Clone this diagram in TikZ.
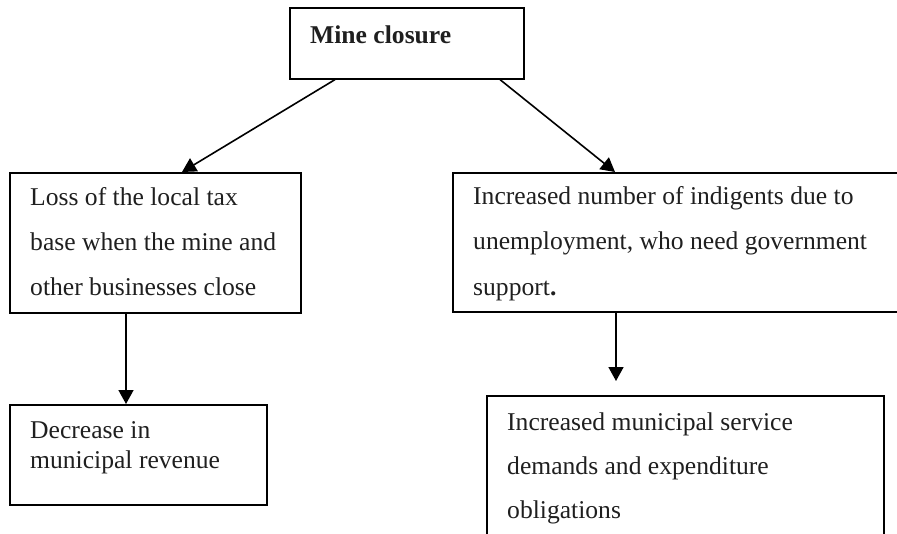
\documentclass[tikz,border=0pt]{standalone}
\usepackage{fontspec}
\setmainfont{Liberation Serif}
\usetikzlibrary{arrows.meta,calc}
\newcommand\boxlines[2]{\vtop{\baselineskip=#1\relax #2}}
\begin{document}
\begin{tikzpicture}[x=1pt,y=-1pt,
  box/.style={draw=black,line width=1.6pt,inner sep=0pt,anchor=north west},
  txt/.style={anchor=base west,inner sep=0pt,text=black!88,font=\fontsize{25.6}{30}\selectfont},
  arr/.style={line width=1.6pt,-{Triangle[length=14pt,width=15pt]}}]
\useasboundingbox (0,0) rectangle (897,533);
\clip (0,0) rectangle (897,533);
% boxes
\node[box,minimum width=234pt,minimum height=71pt] (mc) at (289,7) {};
\node[box,minimum width=291pt,minimum height=140pt] (l1) at (9,172) {};
\node[box,minimum width=257pt,minimum height=100pt] (l2) at (9,404) {};
\node[box,minimum width=460pt,minimum height=139pt] (r1) at (452,172) {};
\node[box,minimum width=397pt,minimum height=160pt] (r2) at (486,395) {};
% texts
\node[txt] (tmc) at (310,43) {\textbf{Mine closure}};
\node[txt] (tl1) at (30,205) {\boxlines{45pt}{\hbox{Loss of the local tax}\hbox{base when the mine and}\hbox{other businesses close}}};
\node[txt] (tl2) at (30,438) {\boxlines{30pt}{\hbox{Decrease in}\hbox{municipal revenue}}};
\node[txt] (tr1) at (473,204) {\boxlines{45.5pt}{\hbox{Increased number of indigents due to}\hbox{unemployment, who need government}\hbox{support\textbf{.}}}};
\node[txt] (tr2) at (507,430) {\boxlines{44pt}{\hbox{Increased municipal service}\hbox{demands and expenditure}\hbox{obligations}}};
% connectors
\draw[arr] ($(mc.south west)+(46,0)$) -- ($(l1.north west)+(173,0)$);
\draw[arr] ($(mc.south west)+(211,0)$) -- ($(r1.north west)+(163,0)$);
\draw[arr] ($(l1.south west)+(117,0)$) -- ($(l2.north west)+(117,0)$);
\draw[arr,shorten >=14pt] ($(r1.south west)+(164,0)$) -- ($(r2.north west)+(130,0)$);
\end{tikzpicture}
\end{document}
